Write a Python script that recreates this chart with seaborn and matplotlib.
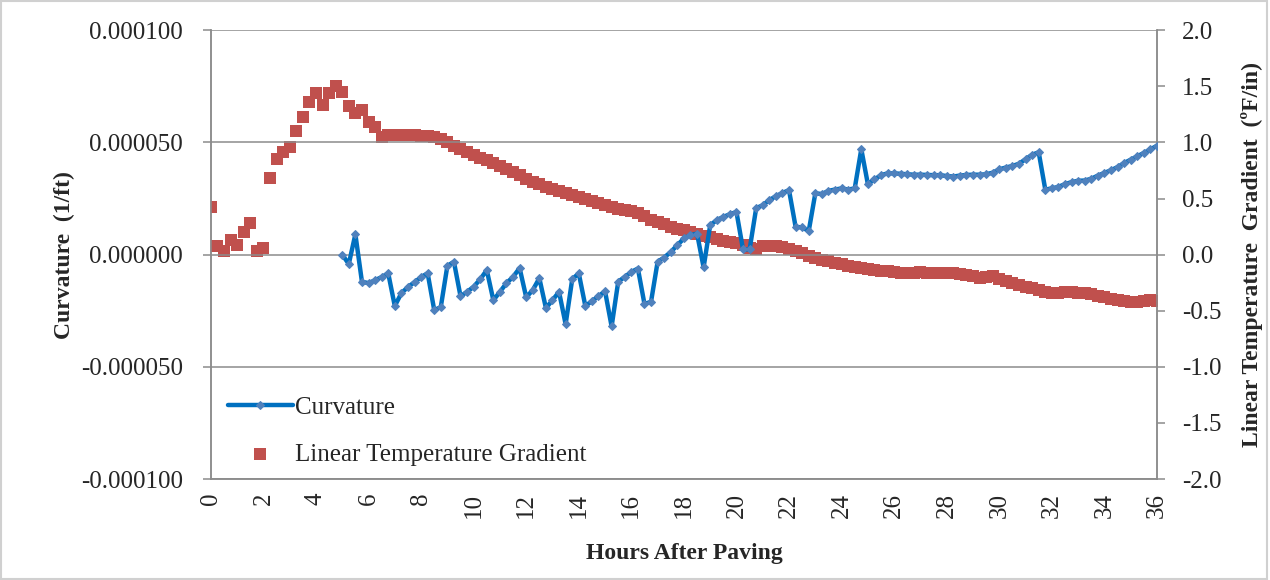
import numpy as np
import pandas as pd
import matplotlib
matplotlib.use("Agg")
import matplotlib.pyplot as plt
from matplotlib.patches import Rectangle
import seaborn as sns

# Linear temperature gradient (degF/in), every 15 min from 0 h to 36 h
gradient = [
    0.42, 0.08, 0.03, 0.13,
    0.09, 0.20, 0.28, 0.03,
    0.06, 0.68, 0.85, 0.91,
    0.96, 1.10, 1.23, 1.36,
    1.44, 1.33, 1.44, 1.50,
    1.45, 1.32, 1.26, 1.29,
    1.18, 1.14, 1.05, 1.07,
    1.07, 1.07, 1.07, 1.07,
    1.06, 1.06, 1.05, 1.03,
    1.00, 0.97, 0.94, 0.91,
    0.885, 0.86, 0.84, 0.815,
    0.79, 0.765, 0.74, 0.71,
    0.67, 0.65, 0.63, 0.605,
    0.585, 0.565, 0.545, 0.53,
    0.51, 0.495, 0.48, 0.46,
    0.445, 0.425, 0.41, 0.395,
    0.385, 0.375, 0.345, 0.31,
    0.29, 0.27, 0.25, 0.23,
    0.215, 0.20, 0.185, 0.17,
    0.155, 0.14, 0.125, 0.115,
    0.10, 0.085, 0.06, 0.05,
    0.08, 0.075, 0.075, 0.07,
    0.05, 0.03, 0.01, -0.01,
    -0.03, -0.045, -0.06, -0.075,
    -0.085, -0.10, -0.11, -0.12,
    -0.13, -0.14, -0.145, -0.15,
    -0.155, -0.16, -0.165, -0.16,
    -0.155, -0.16, -0.16, -0.16,
    -0.16, -0.165, -0.17, -0.18,
    -0.19, -0.21, -0.20, -0.19,
    -0.215, -0.235, -0.25, -0.27,
    -0.285, -0.30, -0.315, -0.33,
    -0.34, -0.345, -0.335, -0.335,
    -0.34, -0.345, -0.35, -0.37,
    -0.38, -0.395, -0.405, -0.415,
    -0.42, -0.425, -0.41, -0.405,
    -0.41,
]
gradient_hours = np.arange(len(gradient)) * 0.25

# Curvature (1e-6 1/ft), every 15 min from 5 h to 36 h
curvature_micro = [
    0.0, -4.2, 9.1, -12.1,
    -12.7, -11.4, -10.0, -8.3,
    -22.9, -17.2, -14.4, -12.3,
    -10.0, -8.3, -24.7, -23.4,
    -5.0, -3.2, -18.5, -16.6,
    -14.3, -11.0, -6.9, -20.3,
    -16.6, -12.7, -9.9, -6.0,
    -19.0, -15.8, -10.5, -23.8,
    -20.3, -16.6, -31.0, -11.0,
    -8.3, -22.9, -20.7, -18.5,
    -16.3, -32.0, -12.1, -9.9,
    -7.7, -6.2, -22.0, -21.0,
    -3.2, -1.3, 1.2, 4.2,
    7.2, 8.7, 9.4, -5.7,
    13.1, 15.4, 16.8, 18.0,
    19.0, 2.3, 2.3, 20.7,
    22.0, 24.3, 26.0, 27.5,
    28.7, 12.4, 12.1, 10.5,
    27.3, 27.0, 28.4, 29.0,
    29.5, 29.0, 29.5, 47.0,
    31.4, 33.5, 35.4, 36.2,
    36.2, 36.0, 35.8, 35.6,
    35.6, 35.5, 35.4, 35.4,
    35.0, 34.8, 35.2, 35.5,
    35.6, 35.6, 35.8, 36.5,
    38.0, 38.8, 39.5, 40.5,
    42.5, 44.5, 45.6, 29.0,
    29.5, 30.2, 31.4, 32.3,
    32.9, 33.0, 33.8, 35.2,
    36.4, 37.6, 39.0, 40.8,
    42.3, 43.8, 45.3, 46.9,
    48.5,
]
curvature_hours = 5.0 + np.arange(len(curvature_micro)) * 0.25

x_ticks = list(range(0, 37, 2))
left_ticks = [-0.0001, -0.00005, 0.0, 0.00005, 0.0001]
left_tick_labels = ["-0.000100", "-0.000050", "0.000000", "0.000050", "0.000100"]
right_ticks = [-2.0, -1.5, -1.0, -0.5, 0.0, 0.5, 1.0, 1.5, 2.0]
right_tick_labels = [f"{v:.1f}" for v in right_ticks]

curv_df = pd.DataFrame({"Hours": curvature_hours,
                        "Curvature": np.array(curvature_micro) * 1e-6})
grad_df = pd.DataFrame({"Hours": gradient_hours, "Gradient": gradient})

sns.set_theme(style="white")
plt.rcParams["font.family"] = ["Liberation Serif", "DejaVu Serif"]

fig = plt.figure(figsize=(12.7, 5.8), dpi=100)
ax = fig.add_axes([0.166, 0.174, 0.745, 0.774])
ax2 = ax.twinx()

gray = "#8c8c8c"
blue = "#0070C0"
blue_marker = "#4F81BD"
red = "#C0504D"

sns.scatterplot(data=grad_df, x="Hours", y="Gradient", ax=ax2, marker="s",
                s=70, color=red, edgecolor=red, linewidth=0,
                label="Linear Temperature Gradient", zorder=3)
sns.lineplot(data=curv_df, x="Hours", y="Curvature", ax=ax, color=blue,
             linewidth=3.2, marker="D", markersize=4.5,
             markerfacecolor=blue_marker, markeredgecolor=blue_marker,
             label="Curvature", zorder=4)

ax.set_zorder(ax2.get_zorder() + 1)
ax.patch.set_visible(False)

ax.set_xlim(0, 36)
ax.set_ylim(-0.0001, 0.0001)
ax2.set_ylim(-2.0, 2.0)

ax.set_xticks(x_ticks)
ax.set_xticklabels([str(t) for t in x_ticks], rotation=90, fontsize=18)
ax.set_yticks(left_ticks)
ax.set_yticklabels(left_tick_labels, fontsize=18)
ax2.set_yticks(right_ticks)
ax2.set_yticklabels(right_tick_labels, fontsize=18)

ax.yaxis.grid(True, color=gray, linewidth=1.1)
ax.xaxis.grid(False)
ax2.grid(False)

for a in (ax, ax2):
    for side, sp in a.spines.items():
        sp.set_color(gray)
        sp.set_linewidth(1.1)
    a.spines["top"].set_visible(False)

ax.tick_params(axis="both", which="major", direction="out", length=6,
               width=1.1, color=gray, pad=4)
ax.tick_params(axis="y", pad=14)
ax2.tick_params(axis="y", direction="out", length=6, width=1.1, color=gray,
                pad=12)

ax.set_xlabel("Hours After Paving", fontsize=17, fontweight="bold",
              labelpad=18)
ax.set_ylabel("Curvature  (1/ft)", fontsize=17, fontweight="bold",
              labelpad=4)
ax2.set_ylabel("Linear Temperature  Gradient  (ºF/in)", fontsize=17,
               fontweight="bold", labelpad=14)

h1, l1 = ax.get_legend_handles_labels()
h2, l2 = ax2.get_legend_handles_labels()
if ax2.get_legend() is not None:
    ax2.get_legend().remove()
ax.legend(h1 + h2, l1 + l2, loc="upper left", bbox_to_anchor=(0.018, 0.185),
          frameon=False, fontsize=18, handlelength=2.6, handletextpad=0.1,
          labelspacing=1.0, borderpad=0, borderaxespad=0)

fig.patches.append(Rectangle((0.001, 0.002), 0.997, 0.996,
                             transform=fig.transFigure, fill=False,
                             edgecolor="#d0d0d0", linewidth=1.5))

fig.savefig("out.png", dpi=100)
